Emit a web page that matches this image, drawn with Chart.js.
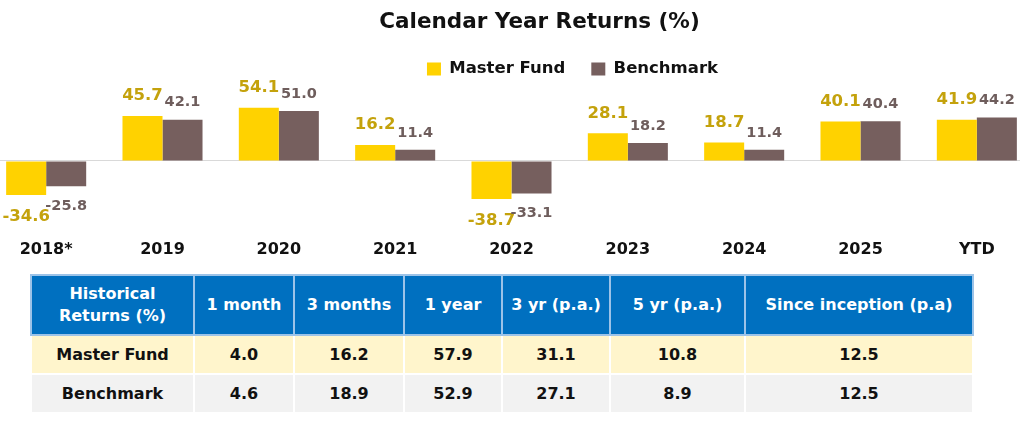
<!DOCTYPE html>
<html>
<head>
<meta charset="utf-8">
<script src="https://cdn.jsdelivr.net/npm/chart.js@4"></script>
<style>
  html, body { margin: 0; padding: 0; background: #fff; overflow: hidden; }
  body { width: 1020px; height: 424px; position: relative; font-family: "DejaVu Sans", sans-serif; }
  #chartBox { position: absolute; left: -12px; top: 0; width: 1047px; height: 262px; }
  #returnsTable {
    position: absolute; left: 30px; top: 274px; width: 942px;
    border-collapse: collapse; table-layout: fixed; font-size: 16px; color: #111;
  }
  #returnsTable th {
    background: #0070C0; color: #fff; font-weight: 700; height: 58px;
    border: 2px solid #9CC3E8; line-height: 22px; padding: 0 2px;
  }
  #returnsTable td {
    text-align: center; font-weight: 700; height: 37px; border: 2px solid #fff; padding: 0;
  }
  #returnsTable tr.fund td { background: #FFF5CC; }
  #returnsTable tr.bench td { background: #F2F2F2; }
</style>
</head>
<body>
<div id="chartBox"><canvas id="returns-chart"></canvas></div>
<table id="returnsTable"></table>
<script>
// Calendar year returns
const categories = ['2018*', '2019', '2020', '2021', '2022', '2023', '2024', '2025', 'YTD'];
const masterFund = [-34.6, 45.7, 54.1, 16.2, -38.7, 28.1, 18.7, 40.1, 41.9];
const benchmark = [-25.8, 42.1, 51.0, 11.4, -33.1, 18.2, 11.4, 40.4, 44.2];

// Historical returns table
const periods = ['1 month', '3 months', '1 year', '3 yr (p.a.)', '5 yr (p.a.)', 'Since inception (p.a)'];
const fundPeriodReturns = [4.0, 16.2, 57.9, 31.1, 10.8, 12.5];
const benchPeriodReturns = [4.6, 18.9, 52.9, 27.1, 8.9, 12.5];

const colWidths = [163, 100, 110, 98, 108, 135, 228];

// value labels above / below the bars
const labelStyles = [
  { size: 16.5, color: '#C4A20C', up: 20, down: 22 },
  { size: 14.5, color: '#6E5D5C', up: 17, down: 20 }
];

const valueLabels = {
  id: 'valueLabels',
  afterDatasetsDraw(chart) {
    const ctx = chart.ctx;
    chart.data.datasets.forEach(function(ds, i) {
      const meta = chart.getDatasetMeta(i);
      const st = labelStyles[i];
      ctx.save();
      ctx.font = 'bold ' + st.size + 'px "DejaVu Sans"';
      ctx.fillStyle = st.color;
      ctx.textAlign = 'center';
      ctx.textBaseline = 'middle';
      meta.data.forEach(function(bar, j) {
        const v = ds.data[j];
        const y = v >= 0 ? bar.y - st.up : bar.y + st.down;
        ctx.fillText(v.toFixed(1), bar.x, y);
      });
      ctx.restore();
    });
  }
};

// title and legend are not centred on the plot in the original
const shiftHeader = {
  id: 'shiftHeader',
  afterLayout(chart) {
    const t = chart.titleBlock;
    t.left += 28; t.right += 28;
    const l = chart.legend;
    l.left += 61; l.right += 61;
    l.top -= 3; l.bottom -= 3;
  }
};

document.addEventListener('DOMContentLoaded', function() {
  const ctx = document.getElementById('returns-chart').getContext('2d');
  new Chart(ctx, {
    type: 'bar',
    data: {
      labels: categories,
      datasets: [{
        label: 'Master Fund',
        data: masterFund,
        backgroundColor: '#FFD200'
      }, {
        label: 'Benchmark',
        data: benchmark,
        backgroundColor: '#765F5E'
      }]
    },
    options: {
      responsive: true,
      maintainAspectRatio: false,
      animation: false,
      layout: { padding: { bottom: 2 } },
      datasets: {
        bar: { categoryPercentage: 0.688, barPercentage: 1 }
      },
      plugins: {
        title: {
          display: true,
          text: 'Calendar Year Returns (%)',
          color: '#111',
          font: { family: 'DejaVu Sans', size: 21.5, weight: 'bold' },
          padding: { top: 10, bottom: 2 }
        },
        legend: {
          labels: {
            boxWidth: 14,
            boxHeight: 13,
            padding: 26,
            color: '#111',
            font: { family: 'DejaVu Sans', size: 16.5, weight: 'bold' }
          }
        },
        tooltip: { enabled: false }
      },
      scales: {
        x: {
          afterFit: function(scale) { scale.height = 50; },
          grid: { display: false, drawTicks: false },
          border: { display: false },
          ticks: {
            padding: 30,
            color: '#111',
            font: { family: 'DejaVu Sans', size: 16, weight: 'bold' }
          }
        },
        y: {
          min: -50,
          max: 72,
          border: { display: false },
          grid: {
            drawTicks: false,
            color: function(c) { return c.tick.value === 0 ? '#D9D9D9' : 'transparent'; }
          },
          ticks: { display: false, stepSize: 2 }
        }
      }
    },
    plugins: [valueLabels, shiftHeader]
  });

  // table
  const table = document.getElementById('returnsTable');
  let html = '<colgroup>' + colWidths.map(function(w) { return '<col style="width:' + w + 'px">'; }).join('') + '</colgroup>';
  html += '<tr><th>Historical<br>Returns (%)</th>' + periods.map(function(p) { return '<th>' + p + '</th>'; }).join('') + '</tr>';
  html += '<tr class="fund"><td>Master Fund</td>' + fundPeriodReturns.map(function(v) { return '<td>' + v.toFixed(1) + '</td>'; }).join('') + '</tr>';
  html += '<tr class="bench"><td>Benchmark</td>' + benchPeriodReturns.map(function(v) { return '<td>' + v.toFixed(1) + '</td>'; }).join('') + '</tr>';
  table.innerHTML = html;
});
</script>
</body>
</html>
